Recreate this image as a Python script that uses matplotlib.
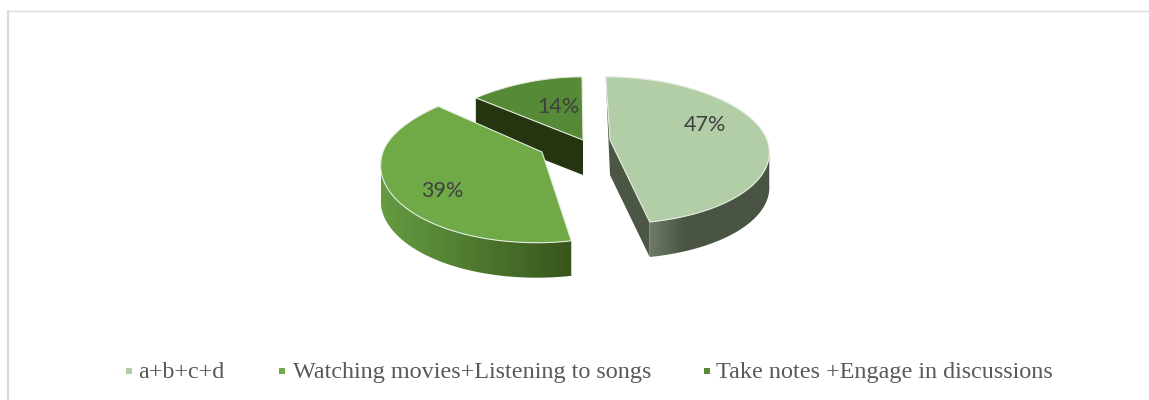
import numpy as np
import matplotlib
matplotlib.use("Agg")
from matplotlib import pyplot as plt
from matplotlib.colors import to_rgb
from matplotlib.patches import Polygon, Rectangle

labels = ["a+b+c+d", "Watching movies+Listening to songs", "Take notes +Engage in discussions"]
shares = [47, 39, 14]

top_colors = ["#B2CEA6", "#6FAA47", "#578A36"]
wall_colors = ["#4B5644", "#24350F", "#24350F"]
rim_light = ["#6E7966", "#659C42", "#578A36"]
rim_dark = ["#4A5443", "#38551C", "#24350F"]
ramp_share = [0.3, 1.0, 1.0]

# apex of each slice on the canvas, in pixels
apexes = [(610, 140), (542, 152), (583, 140)]
radii_x = [157, 159, 159]
radii_y = [72, 78, 72]
back_pinch = [0.03, 0.15, 0.15]
draw_order = [2, 4, 3]
label_spots = [(705, 125), (442, 191), (558, 107)]
view_x, tilt, depth = 575, 0.14, 35

fig = plt.figure(figsize=(11.49, 4.0), dpi=100)
ax = fig.add_axes([0, 0, 1, 1])
ax.axis("off")

# frame shows only on the top and left
ax.plot([8, 8], [10, 400], color="#D9D9D9", lw=1.5, solid_capstyle="butt")
ax.plot([8, 1149], [10.5, 10.5], color="#DDDDDD", lw=1.0, solid_capstyle="butt")


def project(i, angle):
    # clockwise angle from twelve o'clock, squashed with a little perspective
    u, v = np.sin(angle), np.cos(angle)
    scale = 1 + tilt * v
    scale_x = scale + back_pinch[i] * max(v, 0) ** 2
    apex = apexes[i]
    x = view_x + (apex[0] - view_x) / scale + radii_x[i] * u / scale_x
    y = apex[1] - radii_y[i] * v / scale
    return x, y


def gradient_fill(xy, c0, c1, share, z):
    # horizontal gradient clipped to the polygon
    x0, x1 = xy[:, 0].min(), xy[:, 0].max()
    ramp = np.clip(np.linspace(0, 1, 256) / share, 0, 1)[None, :, None]
    img = np.array(to_rgb(c0))[None, None, :] * (1 - ramp) + np.array(to_rgb(c1))[None, None, :] * ramp
    im = ax.imshow(img, extent=(x0, x1, 400, 0), aspect="auto", zorder=z)
    patch = Polygon(xy, closed=True, fc="none", ec="none")
    ax.add_patch(patch)
    im.set_clip_path(patch)


edges = np.cumsum([0] + shares) / sum(shares) * 2 * np.pi

for i, share in enumerate(shares):
    apex = apexes[i]
    angles = np.linspace(edges[i], edges[i + 1], 240)
    rim = np.array([project(i, a) for a in angles])
    z = draw_order[i]

    # cut faces seen from the front
    if i == 0:
        end = rim[-1]
        wall = [apex, end, (end[0], end[1] + depth), (apex[0], apex[1] + depth)]
        ax.add_patch(Polygon(wall, fc=wall_colors[i], ec="none", zorder=z))
        sliver = [rim[0], apex, (apex[0], apex[1] + depth)]
        ax.add_patch(Polygon(sliver, fc=wall_colors[i], ec="none", zorder=z))
    if i == 2:
        start = rim[0]
        wall = [apex, start, (start[0], start[1] + depth), (apex[0], apex[1] + depth)]
        ax.add_patch(Polygon(wall, fc=wall_colors[i], ec="none", zorder=z))

    # curved outer wall, only the part facing the viewer
    front = rim[np.cos(angles) < -tilt]
    if len(front):
        lower = front + [0, depth]
        wall_xy = np.vstack([front, lower[::-1]])
        gradient_fill(wall_xy, rim_light[i], rim_dark[i], ramp_share[i], z)

    top = np.vstack([[apex], rim])
    ax.add_patch(Polygon(top, fc=top_colors[i], ec="#E4EBDF", lw=0.8, zorder=z + 0.5))

    ax.text(label_spots[i][0], label_spots[i][1], f"{share}%", color="#404040", fontsize=15.5,
            ha="center", va="center", family="Lato", zorder=10)

# legend row along the bottom
square_x = [129, 282, 707]
text_x = [138, 293, 716]
for sx, tx, label, color in zip(square_x, text_x, labels, top_colors):
    ax.add_patch(Rectangle((sx - 3, 367.5), 6, 6, fc=color, ec="none"))
    ax.text(tx, 372.5, label, color="#595959", fontsize=17.4, va="center", family="Liberation Serif")

ax.set_xlim(0, 1149)
ax.set_ylim(400, 0)

fig.savefig("out.png", dpi=100)
